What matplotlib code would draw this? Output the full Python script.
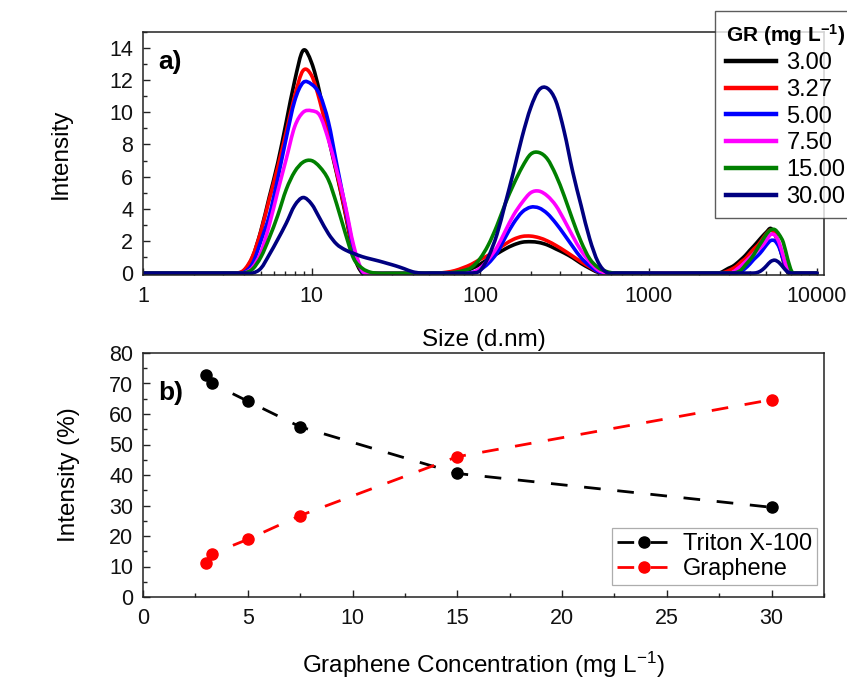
import numpy as np
import matplotlib
matplotlib.use("Agg")
import matplotlib.pyplot as plt
from matplotlib.path import Path
from matplotlib.patches import PathPatch
from matplotlib.lines import Line2D
from matplotlib.ticker import FixedLocator, MultipleLocator, NullFormatter, LogLocator

plt.rcParams['font.family'] = ['Liberation Sans', 'DejaVu Sans']
plt.rcParams['mathtext.fontset'] = 'custom'
plt.rcParams['mathtext.rm'] = 'Liberation Sans'
plt.rcParams['mathtext.it'] = 'Liberation Sans:italic'
plt.rcParams['mathtext.bf'] = 'Liberation Sans:bold'

# ---------------- (a) DLS size distributions ----------------
size_nm = [1.0,
           3.55, 3.98, 4.47, 5.01, 5.62, 6.31, 7.08, 7.94, 8.91, 10.0,
           11.2, 12.6, 14.1, 15.8, 17.8, 20.0, 22.4, 25.1, 28.2, 31.6,
           35.5, 39.8, 44.7,
           50.1, 56.2, 63.1, 70.8, 79.4, 89.1, 100, 112, 126, 141, 158,
           178, 200, 224, 251, 282, 316, 355, 398, 447, 501, 562, 631,
           2512, 2661, 2818, 2985, 3162, 3350, 3548, 3758, 3981, 4217,
           4467, 4732, 5012, 5309, 5623, 5957, 6310, 6683, 7079, 7499,
           10000]

gr_labels = ["3.00", "3.27", "5.00", "7.50", "15.00", "30.00"]
gr_colors = ["#000000", "#FF0000", "#0000FF", "#FF00FF", "#008000", "#000080"]

int_3_00 = [0,
            0, 0.15, 1.0, 2.65, 4.75, 6.87, 9.4, 11.95, 13.85, 13.1,
            11.2, 8.45, 6.2, 3.8, 1.15, 0, 0, 0, 0, 0, 0, 0, 0,
            0, 0, 0, 0, 0.1, 0.28, 0.55, 0.88, 1.2, 1.5, 1.75, 1.92,
            1.95, 1.9, 1.75, 1.5, 1.25, 0.95, 0.6, 0.3, 0.05, 0, 0,
            0, 0.02, 0.15, 0.3, 0.42, 0.62, 0.85, 1.1, 1.4, 1.68, 1.98,
            2.28, 2.55, 2.78, 2.4, 1.75, 0.75, 0.05, 0, 0,
            0]
int_3_27 = [0,
            0, 0.2, 1.05, 2.6, 4.6, 6.6, 8.8, 11.0, 12.6, 12.3,
            10.7, 8.5, 6.3, 3.9, 1.3, 0.1, 0, 0, 0, 0, 0, 0, 0,
            0, 0, 0.05, 0.15, 0.33, 0.55, 0.85, 1.1, 1.45, 1.8, 2.1, 2.28,
            2.3, 2.2, 2.0, 1.72, 1.4, 1.05, 0.7, 0.38, 0.1, 0, 0,
            0, 0, 0.05, 0.15, 0.28, 0.45, 0.7, 0.9, 1.2, 1.5, 1.75,
            2.1, 2.45, 2.68, 2.45, 1.75, 0.85, 0.15, 0, 0,
            0]
int_5_00 = [0,
            0, 0.05, 0.6, 2.0, 3.6, 5.9, 8.4, 10.7, 11.85, 11.75,
            11.1, 9.4, 6.8, 4.2, 1.5, 0.1, 0, 0, 0, 0, 0, 0, 0,
            0, 0, 0, 0, 0, 0.03, 0.2, 0.6, 1.25, 2.2, 3.1, 3.8,
            4.1, 4.05, 3.7, 3.1, 2.4, 1.65, 0.95, 0.45, 0.1, 0, 0,
            0, 0, 0, 0, 0, 0, 0.1, 0.3, 0.55, 0.85, 1.1,
            1.4, 1.75, 2.02, 2.0, 1.6, 0.85, 0.2, 0, 0,
            0]
int_7_50 = [0,
            0, 0, 0.35, 1.3, 3.0, 5.1, 7.1, 9.1, 10.0, 10.1,
            9.8, 8.3, 6.4, 4.3, 1.7, 0.15, 0, 0, 0, 0, 0, 0, 0,
            0, 0, 0, 0, 0, 0, 0.3, 0.85, 1.6, 2.6, 3.6, 4.4,
            5.0, 5.1, 4.8, 4.2, 3.3, 2.3, 1.4, 0.7, 0.2, 0, 0,
            0, 0, 0, 0, 0.05, 0.25, 0.45, 0.7, 0.95, 1.2, 1.45,
            1.7, 2.05, 2.4, 2.35, 1.9, 1.05, 0.25, 0, 0,
            0]
int_15_00 = [0,
             0, 0, 0.25, 1.0, 2.2, 3.6, 5.2, 6.3, 6.9, 7.0,
             6.6, 5.8, 4.3, 2.55, 0.9, 0.3, 0.05, 0, 0, 0, 0, 0, 0,
             0, 0, 0, 0.05, 0.15, 0.35, 0.9, 1.75, 2.95, 4.3, 5.5, 6.6,
             7.4, 7.5, 7.1, 6.1, 4.8, 3.3, 1.95, 0.9, 0.35, 0.1, 0,
             0, 0, 0, 0, 0, 0.05, 0.2, 0.5, 0.8, 1.15, 1.6,
             2.0, 2.42, 2.68, 2.7, 2.4, 1.9, 0.9, 0.1, 0,
             0]
int_30_00 = [0,
             0, 0, 0, 0.3, 1.15, 2.1, 3.1, 4.2, 4.7, 4.3,
             3.4, 2.45, 1.8, 1.45, 1.22, 1.02, 0.88, 0.75, 0.6, 0.45, 0.27, 0.08, 0,
             0, 0, 0, 0, 0, 0, 0.15, 1.0, 2.4, 4.3, 6.3, 8.5,
             10.3, 11.4, 11.5, 10.7, 8.8, 6.3, 4.2, 2.15, 0.7, 0.05, 0,
             0, 0, 0, 0, 0, 0, 0, 0, 0, 0, 0.05,
             0.2, 0.45, 0.72, 0.8, 0.65, 0.35, 0.08, 0, 0,
             0]
intensity_series = [int_3_00, int_3_27, int_5_00, int_7_50, int_15_00, int_30_00]

size_ticks = [1, 10, 100, 1000, 10000]
size_tick_labels = ["1", "10", "100", "1000", "10000"]

# ---------------- (b) intensity share vs graphene concentration ----------------
conc = [3.00, 3.27, 5.00, 7.50, 15.00, 30.00]
triton = [72.7, 70.1, 64.2, 55.8, 40.5, 29.4]
graphene = [11.3, 14.1, 18.9, 26.7, 46.0, 64.7]


def spline_path(xs, ys):
    """Smooth (Catmull-Rom style) Bezier path through the points, built in
    log10(x) so that it renders evenly on the logarithmic size axis."""
    u = np.log10(np.asarray(xs, float))
    y = np.asarray(ys, float)
    n = len(u)
    m = np.zeros(n)
    for i in range(1, n - 1):
        m[i] = (y[i + 1] - y[i - 1]) / (u[i + 1] - u[i - 1])
    verts = [(xs[0], y[0])]
    codes = [Path.MOVETO]
    for i in range(n - 1):
        h = u[i + 1] - u[i]
        c1 = (10 ** (u[i] + h / 3), y[i] + m[i] * h / 3)
        c2 = (10 ** (u[i + 1] - h / 3), y[i + 1] - m[i + 1] * h / 3)
        verts += [c1, c2, (xs[i + 1], y[i + 1])]
        codes += [Path.CURVE4] * 3
    return Path(verts, codes)


W, H = 847, 695
fig = plt.figure(figsize=(W / 100, H / 100), dpi=100)
fig.patch.set_facecolor("white")


def box(l, t, r, b):
    return [l / W, 1 - b / H, (r - l) / W, (b - t) / H]


ax1 = fig.add_axes(box(143, 32, 824, 275))
ax2 = fig.add_axes(box(143, 353, 824, 597))

TICK_FS = 15.5
LABEL_FS = 17.5

for ax in (ax1, ax2):
    for sp in ax.spines.values():
        sp.set_linewidth(1.1)
        sp.set_color("#222222")
    ax.tick_params(which="both", direction="in", top=False, right=False,
                   labelsize=TICK_FS, width=1.0, colors="#222222",
                   labelcolor="#111111")
    ax.tick_params(which="major", length=5)
    ax.tick_params(which="minor", length=2.6)
    ax.tick_params(axis="x", pad=8)
    ax.tick_params(axis="y", pad=7)
    ax.set_axisbelow(True)

# panel (a)
ax1.set_xscale("log")
ax1.set_xlim(1, 11000)
ax1.set_ylim(-0.12, 15.0)
handles = []
for vals, col, lab in zip(intensity_series, gr_colors, gr_labels):
    patch = PathPatch(spline_path(size_nm, vals), facecolor="none",
                      edgecolor=col, lw=2.6, joinstyle="round",
                      capstyle="round", zorder=2)
    ax1.add_patch(patch)
    handles.append(Line2D([], [], color=col, lw=3.2, label=lab))
ax1.xaxis.set_major_locator(FixedLocator(size_ticks))
ax1.set_xticklabels(size_tick_labels)
ax1.xaxis.set_minor_locator(LogLocator(base=10, subs=range(2, 10)))
ax1.xaxis.set_minor_formatter(NullFormatter())
ax1.yaxis.set_minor_locator(MultipleLocator(1))
ax1.set_yticks(range(0, 15, 2))
ax1.set_xlabel("Size (d.nm)", fontsize=LABEL_FS, labelpad=16)
ax1.set_ylabel("Intensity", fontsize=LABEL_FS)
ax1.yaxis.set_label_coords(-0.104, 0.5)
ax1.text(0.022, 0.875, "a)", transform=ax1.transAxes, fontsize=19,
         fontweight="bold", va="center", ha="left")

leg1 = fig.legend(handles=handles, loc="upper left",
                  bbox_to_anchor=(715 / W, 1 - 11 / H),
                  fontsize=17, frameon=True, fancybox=False,
                  handlelength=2.15, handletextpad=0.42, labelspacing=0.2,
                  borderpad=0.45, borderaxespad=0,
                  title="GR (mg L$^{\\mathbf{-1}}$)",
                  title_fontproperties={"weight": "bold", "size": 15})
leg1.get_frame().set_edgecolor("#333333")
leg1.get_frame().set_linewidth(1.0)

# panel (b)
ax2.plot(conc, triton, color="black", lw=2.0, ls=(0, (6, 6)), marker="o",
         markersize=8, label="Triton X-100")
ax2.plot(conc, graphene, color="#FF0000", lw=2.0, ls=(0, (6, 6)), marker="o",
         markersize=8, label="Graphene")
ax2.set_xlim(0, 32.5)
ax2.set_ylim(0, 80)
ax2.xaxis.set_major_locator(MultipleLocator(5))
ax2.xaxis.set_minor_locator(MultipleLocator(2.5))
ax2.yaxis.set_major_locator(MultipleLocator(10))
ax2.yaxis.set_minor_locator(MultipleLocator(5))
ax2.set_xlabel("Graphene Concentration (mg L$^{-1}$)", fontsize=LABEL_FS,
               labelpad=15)
ax2.set_ylabel("Intensity (%)", fontsize=LABEL_FS)
ax2.yaxis.set_label_coords(-0.092, 0.5)
ax2.text(0.022, 0.836, "b)", transform=ax2.transAxes, fontsize=19,
         fontweight="bold", va="center", ha="left")
leg2 = ax2.legend(loc="lower right", bbox_to_anchor=(0.99, 0.049),
                  fontsize=17, frameon=True, fancybox=False,
                  handlelength=2.3, handletextpad=0.5, labelspacing=0.12,
                  borderpad=0.22, borderaxespad=0)
leg2.get_frame().set_edgecolor("#999999")
leg2.get_frame().set_linewidth(0.9)

fig.savefig("out.png", dpi=100, facecolor="white")
